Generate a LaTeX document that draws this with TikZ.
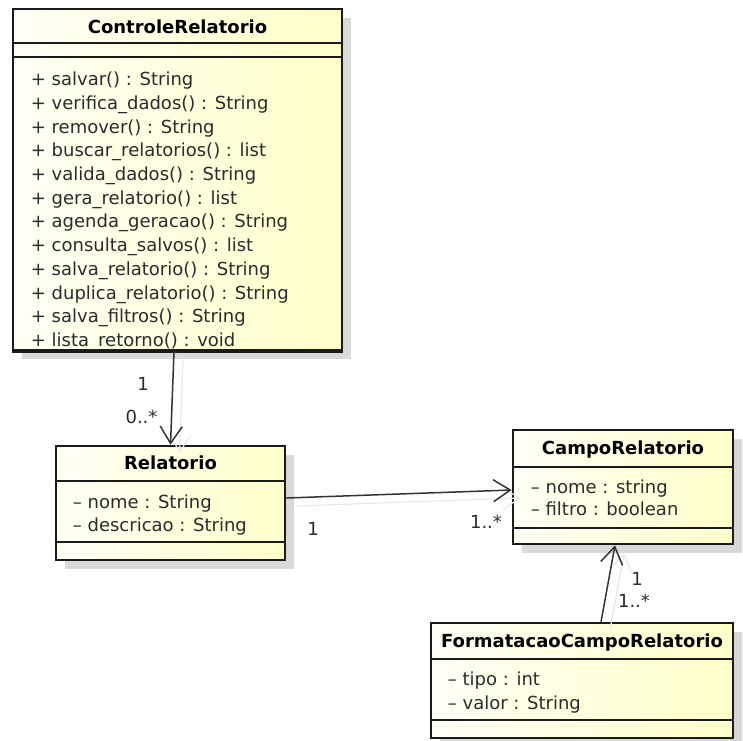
\documentclass[tikz,border=0pt]{standalone}
\usepackage{fontspec}
\setmainfont{DejaVu Sans}
\usepackage{tikz}
\usetikzlibrary{shadows,arrows.meta,calc}
\definecolor{borda}{HTML}{1A1A1A}
\definecolor{fundoA}{HTML}{FFFFF6}
\definecolor{fundoB}{HTML}{FFFFC9}
\definecolor{sombra}{HTML}{D9D9D9}
\definecolor{texto}{HTML}{2B2B2B}
\tikzset{classe/.style={draw=borda, line width=2.6pt, left color=fundoA, right color=fundoB, inner sep=0pt, drop shadow={shadow xshift=9pt, shadow yshift=-9pt, fill=sombra, opacity=1}}}
\tikzset{titulo/.style={font=\fontsize{18}{22}\selectfont\bfseries, text=black, anchor=base, inner sep=0pt}}
\tikzset{membro/.style={font=\fontsize{18}{22}\selectfont, text=texto, anchor=base west, inner sep=0pt}}
\tikzset{mult/.style={font=\fontsize{18}{22}\selectfont, text=texto, anchor=base, inner sep=0pt}}
\tikzset{divisao/.style={draw=borda, line width=1.6pt}}
\tikzset{assoc/.style={-{Straight Barb[length=17pt,width=22pt]}, line width=1.5pt, draw=black!80, preaction={draw=sombra!60, line width=1.2pt, transform canvas={shift={(9pt,-8pt)}}}}}

\begin{document}
\begin{tikzpicture}[x=1pt, y=-1pt]
  \useasboundingbox (0,0) rectangle (743,740);

  % Clases
  \node[classe, minimum width=329pt, minimum height=341pt] (controle) at (177.5,179.5) {};
  \node[classe, minimum width=229pt, minimum height=114pt] (relatorio) at (170.5,503) {};
  \node[classe, minimum width=220pt, minimum height=114pt] (campo) at (623,487) {};
  \node[classe, minimum width=302pt, minimum height=115pt] (formatacao) at (582,680.5) {};

  % Divisiones
  \draw[divisao] ([yshift=-35pt]controle.north west) -- ([yshift=-35pt]controle.north east);
  \draw[divisao] ([yshift=-49pt]controle.north west) -- ([yshift=-49pt]controle.north east);
  \draw[divisao] ([yshift=-36pt]relatorio.north west) -- ([yshift=-36pt]relatorio.north east);
  \draw[divisao] ([yshift=-97pt]relatorio.north west) -- ([yshift=-97pt]relatorio.north east);
  \draw[divisao] ([yshift=-38pt]campo.north west) -- ([yshift=-38pt]campo.north east);
  \draw[divisao] ([yshift=-99pt]campo.north west) -- ([yshift=-99pt]campo.north east);
  \draw[divisao] ([yshift=-37pt]formatacao.north west) -- ([yshift=-37pt]formatacao.north east);
  \draw[divisao] ([yshift=-98pt]formatacao.north west) -- ([yshift=-98pt]formatacao.north east);

  % Titulos
  \node[titulo] (controle-t) at ($(controle.north)+(0,26)$) {ControleRelatorio};
  \node[titulo] (relatorio-t) at ($(relatorio.north)+(0,25)$) {Relatorio};
  \node[titulo] (campo-t) at ($(campo.north)+(0,26)$) {CampoRelatorio};
  \node[titulo] (formatacao-t) at ($(formatacao.north)+(0,26)$) {FormatacaoCampoRelatorio};

  % Operaciones
  \foreach \txt [count=\i from 0] in {salvar() : String, verifica\_dados() : String, remover() : String,
      buscar\_relatorios() : list, valida\_dados() : String, gera\_relatorio() : list,
      agenda\_geracao() : String, consulta\_salvos() : list, salva\_relatorio() : String,
      duplica\_relatorio() : String, salva\_filtros() : String, lista\_retorno() : void}
    \node[membro] (op-\i) at ($(controle.north west)+(19,78+23.7*\i)$) {+ \txt};
  \draw[line width=2.6pt, draw=borda] (controle.south west) -- (controle.south east);

  % Atributos
  \node[membro] (rel-a1) at ($(relatorio.north west)+(18,64)$) {– nome : String};
  \node[membro] (rel-a2) at ($(relatorio.north west)+(18,87)$) {– descricao : String};
  \node[membro] (campo-a1) at ($(campo.north west)+(19,65)$) {– nome : string};
  \node[membro] (campo-a2) at ($(campo.north west)+(19,87)$) {– filtro : boolean};
  \node[membro] (fmt-a1) at ($(formatacao.north west)+(18,64)$) {– tipo : int};
  \node[membro] (fmt-a2) at ($(formatacao.north west)+(18,88)$) {– valor : String};

  % Asociaciones
  \draw[assoc] ([xshift=-3.5pt]controle.south) -- (relatorio.north);
  \draw[assoc] ([yshift=5pt]relatorio.east) -- ([yshift=-3pt]campo.west);
  \draw[assoc] ([xshift=19pt]formatacao.north) -- ([xshift=-8pt]campo.south);

  % Multiplicidades
  \node[mult] (m-controle) at (143,390) {1};
  \node[mult] (m-relatorio1) at (141.5,423) {0..*};
  \node[mult] (m-relatorio2) at (313,535) {1};
  \node[mult] (m-campo1) at (486,528) {1..*};
  \node[mult] (m-campo2) at (637,585) {1};
  \node[mult] (m-formatacao) at (634,607) {1..*};
\end{tikzpicture}
\end{document}
